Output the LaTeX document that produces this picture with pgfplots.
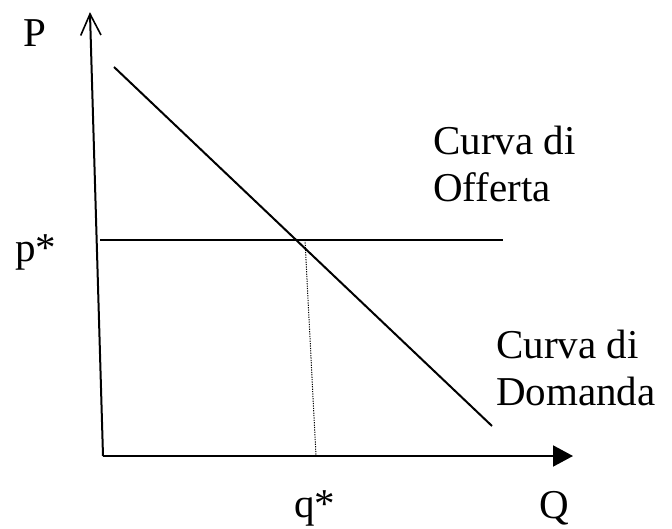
\documentclass[border=0pt]{standalone}
\usepackage{pgfplots}
\pgfplotsset{compat=1.18}
\usepackage{fontspec}
\setmainfont{Liberation Serif}
\usetikzlibrary{arrows.meta}

\tikzset{lbl/.style={anchor=base west, inner sep=0pt, font=\fontsize{41}{47}\selectfont}}

\begin{document}
\begin{tikzpicture}
\begin{axis}[
  width=672pt, height=528pt, scale only axis,
  xmin=0, xmax=672, ymin=0, ymax=528,
  hide axis, clip=false,
  cycle list={{black,no markers}},
  every axis plot/.append style={black, no markers, line width=2pt, line join=miter},
]
  \coordinate (sw) at (rel axis cs:0,0);
  \coordinate (ne) at (rel axis cs:1,1);

  % price axis with open arrow head
  \addplot [black] coordinates {(103,72) (90,514)};
  \addplot [black, line width=1.6pt] coordinates {(80.7,492.5) (90,514) (101,493)};

  % quantity axis with filled arrow head
  \addplot [black, -{Triangle[length=20pt,width=21pt]}] coordinates {(103,72) (573,72)};

  % supply (horizontal) and demand
  \addplot [black] coordinates {(100,288) (503,288)};
  \addplot [black] coordinates {(114,461) (492,102)};

  % equilibrium quantity
  \addplot [black, line width=1pt, dash pattern=on 1.2pt off 1.2pt] coordinates {(305,288) (316,72)};

  \node[lbl] at (axis cs:23,481) {P};
  \node[lbl] at (axis cs:15,266) {p*};
  \node[lbl] at (axis cs:294,11) {q*};
  \node[lbl] at (axis cs:539,10) {Q};
  \node[lbl] at (axis cs:433,373) {Curva di};
  \node[lbl] at (axis cs:433,326) {Offerta};
  \node[lbl] at (axis cs:496,170) {Curva di};
  \node[lbl] at (axis cs:496,123) {Domanda};
\end{axis}
\pgfresetboundingbox
\path (sw) rectangle (ne);
\end{tikzpicture}
\end{document}
